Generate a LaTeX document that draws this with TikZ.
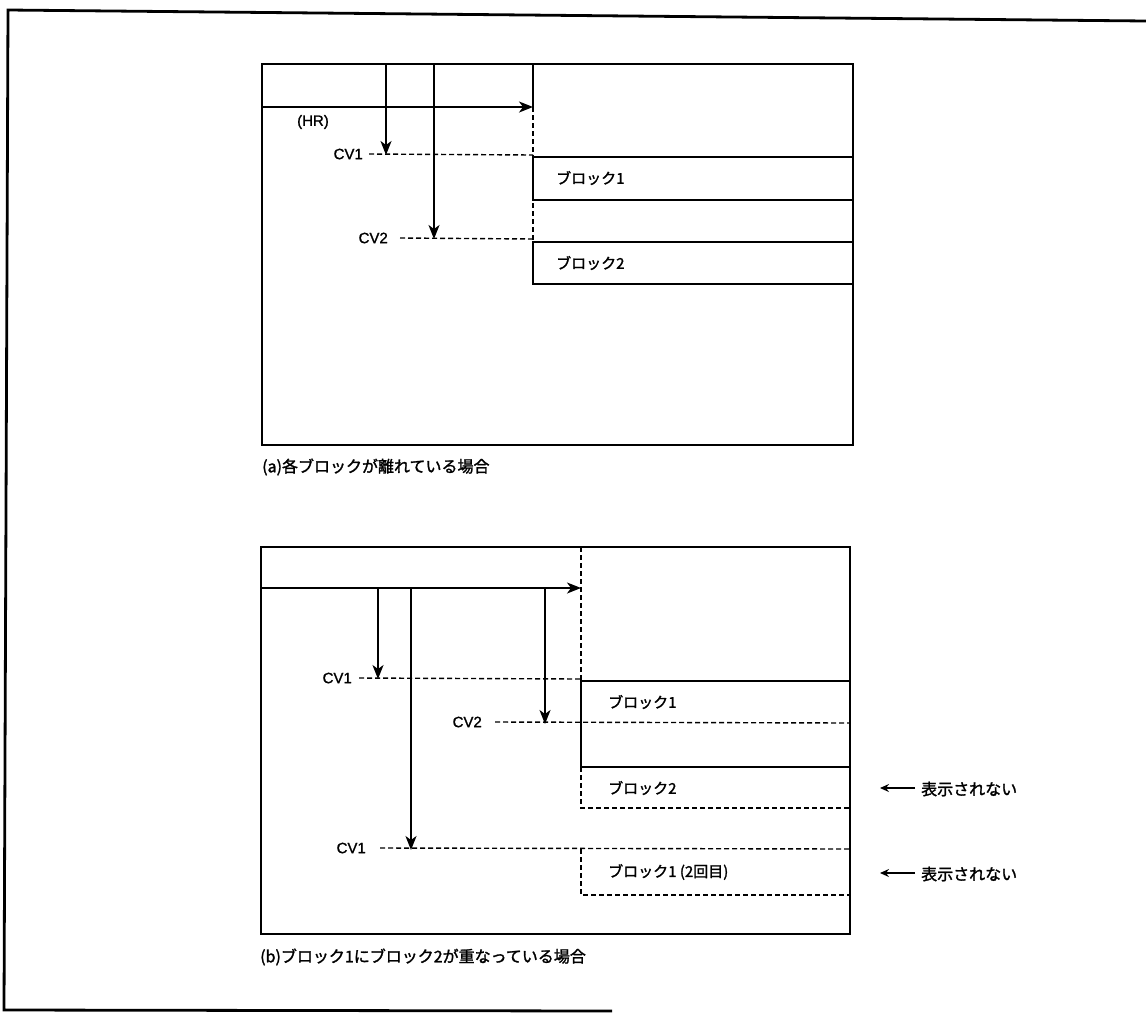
\documentclass[tikz,border=0pt]{standalone}
\usepackage{fontspec}
\setmainfont[FakeBold=1.2]{Liberation Sans}
\newfontfamily\jp[FakeBold=1.6]{Noto Sans CJK JP}
\usetikzlibrary{arrows.meta}
\begin{document}
\begin{tikzpicture}[x=1pt,y=-1pt,
  frame/.style={line width=1.6pt},
  outerframe/.style={line width=2.8pt},
  thickbox/.style={line width=2.8pt},
  dline/.style={line width=1.4pt, dash pattern=on 5pt off 3pt},
  arr/.style={line width=1.6pt,-{Stealth[length=14pt,width=11pt,inset=4pt]}},
  smallarr/.style={line width=1.5pt,-{Stealth[length=9pt,width=8pt,inset=3pt]}},
  lbl/.style={font=\fontsize{15}{15}\selectfont, inner sep=0pt},
  jlbl/.style={font=\jp\fontsize{15}{15}\selectfont, inner sep=0pt},
  captxt/.style={font=\jp\fontsize{16}{16}\selectfont, inner sep=0pt, anchor=west},
]
\useasboundingbox (0,0) rectangle (1146,1013);

% outer frame
\coordinate (oTR) at (1146,21);
\coordinate (oTL) at (8,10);
\coordinate (oBL) at (4,1010);
\coordinate (oBR) at (612,1011);
\draw[outerframe] (oTR) -- (oTL) -- (oBL) -- (oBR);

%%%%%%%%%% panel (a)
\coordinate (aTL) at (262,64);
\coordinate (aBR) at (853,445);
\draw[frame] (aTL) rectangle (aBR);

\coordinate (aVt) at (533,64);
\coordinate (aHRs) at (262,107);
\coordinate (aHRe) at (533,107);
\coordinate (aVb) at (533,242);
\draw[frame] (aVt) -- (aHRe);
\draw[dline] (aHRe) -- (aVb);
\draw[arr] (aHRs) -- (aHRe);
\node[lbl] (aHR) at (313,122) {(HR)};

\coordinate (a1t) at (386,64);
\coordinate (a1b) at (386,155);
\draw[arr] (a1t) -- (a1b);
\coordinate (a2t) at (434,64);
\coordinate (a2b) at (434,239);
\draw[arr] (a2t) -- (a2b);

\node[lbl, anchor=east] (aCV1) at (363,154) {CV1};
\coordinate (aCV1e) at (533,155);
\draw[dline] ([xshift=6pt]aCV1.east) -- (aCV1e);

\node[lbl, anchor=east] (aCV2) at (388,238) {CV2};
\coordinate (aCV2e) at (533,239);
\draw[dline] ([xshift=12pt]aCV2.east) -- (aCV2e);

\draw[thickbox] (853,157) -- (533,157) -- (533,200) -- (853,200);
\node[jlbl, anchor=west] (aB1) at (556,178) {ブロック1};
\draw[thickbox] (853,242) -- (533,242) -- (533,284) -- (853,284);
\node[jlbl, anchor=west] (aB2) at (556,263) {ブロック2};

\node[captxt] (capA) at (262,467) {(a)各ブロックが離れている場合};

%%%%%%%%%% panel (b)
\coordinate (bTL) at (261,547);
\coordinate (bBR) at (850,934);
\draw[frame] (bTL) rectangle (bBR);

\coordinate (bVt) at (581,547);
\coordinate (bHRs) at (261,588);
\coordinate (bHRe) at (581,588);
\coordinate (bVb) at (581,681);
\draw[dline] (bVt) -- (bVb);
\draw[arr] (bHRs) -- (bHRe);

\coordinate (b1t) at (378,588);
\coordinate (b1b) at (378,679);
\draw[arr] (b1t) -- (b1b);
\coordinate (b2t) at (545,589);
\coordinate (b2b) at (545,724);
\draw[arr] (b2t) -- (b2b);
\coordinate (b3t) at (411,588);
\coordinate (b3b) at (411,850);
\draw[arr] (b3t) -- (b3b);

\node[lbl, anchor=east] (bCV1) at (352,678) {CV1};
\coordinate (bCV1e) at (581,679);
\draw[dline] ([xshift=7pt]bCV1.east) -- (bCV1e);

\node[lbl, anchor=east] (bCV2) at (482,722) {CV2};
\coordinate (bCV2e) at (850,723);
\draw[dline] ([xshift=13pt]bCV2.east) -- (bCV2e);

\node[lbl, anchor=east] (bCV3) at (366,848) {CV1};
\coordinate (bCV3e) at (850,849);
\draw[dline] ([xshift=14pt]bCV3.east) -- (bCV3e);

\draw[thickbox] (850,681) -- (581,681) -- (581,767) -- (850,767);
\node[jlbl, anchor=west] (bB1) at (608,702) {ブロック1};

\draw[dline] (581,767) -- (581,808) -- (850,808);
\node[jlbl, anchor=west] (bB2) at (608,788) {ブロック2};

\draw[dline] (581,849) -- (581,895) -- (850,895);
\node[jlbl, anchor=west] (bB3) at (608,872) {ブロック1 (2回目)};

\node[captxt] (n1) at (921,789) {表示されない};
\coordinate (n1a) at (880,788);
\draw[smallarr] ([xshift=-6pt]n1.west |- n1a) -- (n1a);
\node[captxt] (n2) at (921,874) {表示されない};
\coordinate (n2a) at (880,873);
\draw[smallarr] ([xshift=-6pt]n2.west |- n2a) -- (n2a);

\node[captxt] (capB) at (260,957) {(b)ブロック1にブロック2が重なっている場合};
\end{tikzpicture}
\end{document}
